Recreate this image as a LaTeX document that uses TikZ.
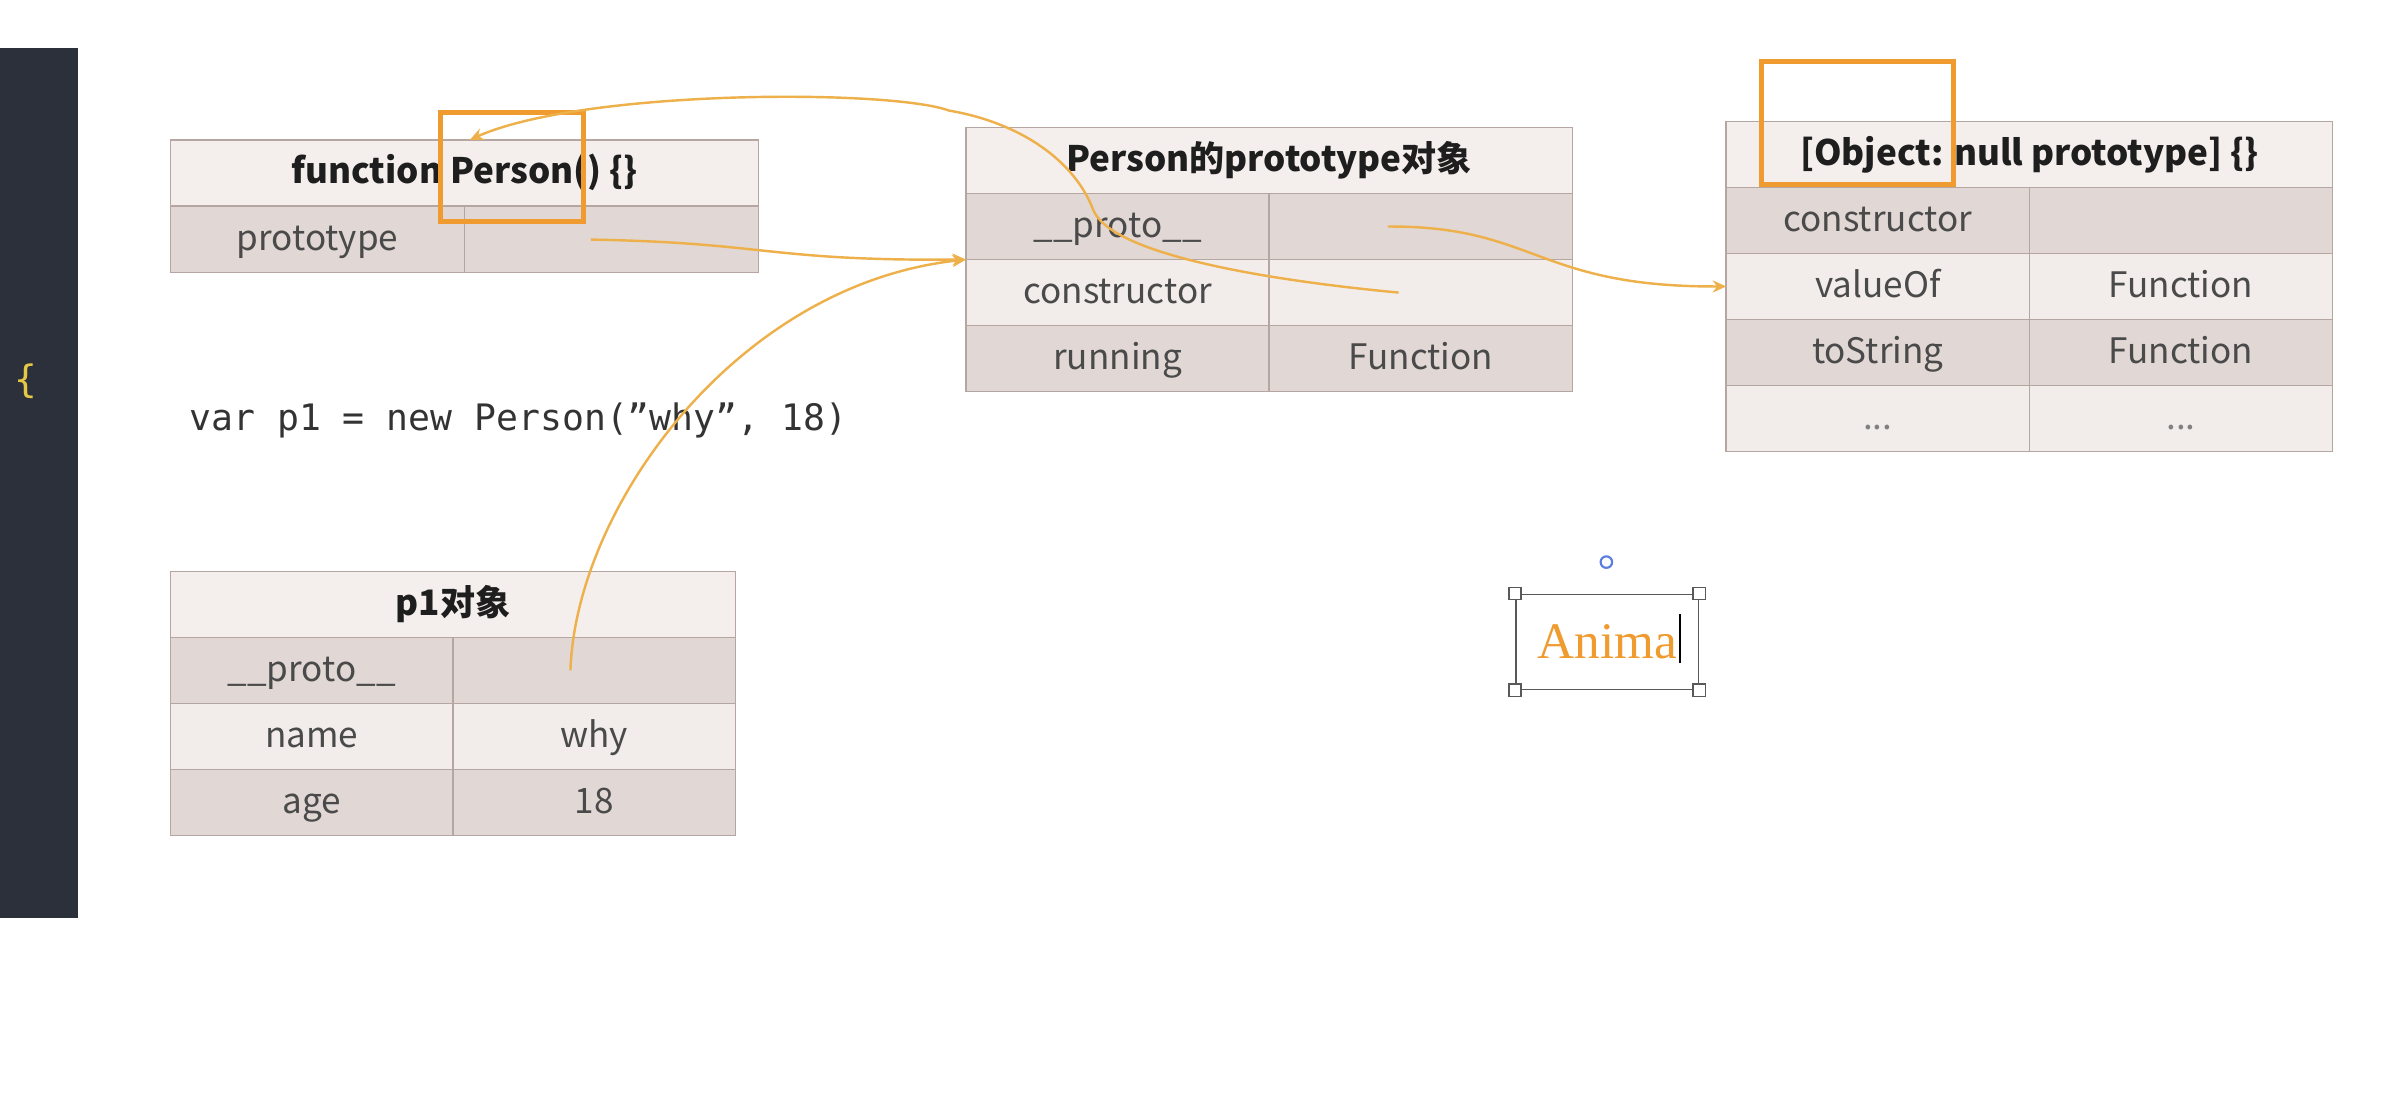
\documentclass[tikz,border=0pt]{standalone}
\usepackage{fontspec}
\usepackage{tikz}
\usetikzlibrary{positioning, arrows.meta}
\newfontfamily\cjk{Noto Sans CJK SC}
\newfontfamily\codefont{DejaVu Sans Mono}
\newfontfamily\animafont{Liberation Serif}
\definecolor{panel}{HTML}{2C303B}
\definecolor{curly}{HTML}{E5C845}
\definecolor{tblline}{HTML}{B5A6A2}
\definecolor{hdrfill}{HTML}{F4EFED}
\definecolor{rowdark}{HTML}{E1D7D4}
\definecolor{rowlight}{HTML}{F2EDEA}
\definecolor{celltext}{HTML}{4A4A4A}
\definecolor{hdrtext}{HTML}{1E1E1E}
\definecolor{hlc}{HTML}{EF9B2F}
\definecolor{linkc}{HTML}{EEB04A}
\definecolor{rotc}{HTML}{5B7FE0}
\newcommand{\kvrow}[6]{%
  \node[cell, fill=#4, minimum width=#3, anchor=west] (#1k) at #2 {#5};
  \node[cell, fill=#4, minimum width=#3, right=0pt of #1k] (#1v) {#6};}

\begin{document}
\begin{tikzpicture}[x=0.02cm, y=-0.02cm,
    cell/.style={draw=tblline, line width=0.6pt, inner sep=0pt, outer sep=0pt,
      minimum height=0.86cm, text height=0.9em, text depth=0.1em,
      text=celltext, font=\cjk\fontsize{13}{15}\selectfont},
    hdr/.style={cell, fill=hdrfill, text=hdrtext, font=\cjk\bfseries\fontsize{13}{15}\selectfont},
    hilite/.style={draw=hlc, line width=1.8pt, inner sep=0pt},
    ptr/.style={draw=linkc, line width=0.9pt, -{Stealth[length=5pt, width=4.5pt]}},
    handle/.style={draw=gray!70!black, fill=white, line width=0.6pt, minimum size=0.16cm, inner sep=0pt}]
  \useasboundingbox (0,0) rectangle (1568,725);
  \fill[white] (0,0) rectangle (1568,725);
  % editor strip
  \fill[panel] (0,31) rectangle (51,598);
  \node[font=\codefont\fontsize{14}{16}\selectfont, text=curly] (brace) at (17,248) {\{};
  % function Person
  \node[hdr, minimum width=7.66cm, anchor=west] (ahead) at (111,112.5) {function Person() \{\}};
  \kvrow{aproto}{(111,156)}{3.83cm}{rowdark}{prototype}{}
  % prototype object
  \node[hdr, minimum width=7.9cm, anchor=west] (bhead) at (629,104.5) {Person的prototype对象};
  \kvrow{bproto}{(629,147.5)}{3.95cm}{rowdark}{\_\_proto\_\_}{}
  \kvrow{bcon}{(629,190.5)}{3.95cm}{rowlight}{constructor}{}
  \kvrow{brun}{(629,233.5)}{3.95cm}{rowdark}{running}{Function}
  % null prototype object
  \node[hdr, minimum width=7.9cm, anchor=west] (chead) at (1124,100.5) {[Object: null prototype] \{\}};
  \kvrow{ccon}{(1124,143.5)}{3.95cm}{rowdark}{constructor}{}
  \kvrow{cval}{(1124,186.5)}{3.95cm}{rowlight}{valueOf}{Function}
  \kvrow{cstr}{(1124,229.5)}{3.95cm}{rowdark}{toString}{Function}
  \kvrow{cdots}{(1124,272.5)}{3.95cm}{rowlight}{\textcolor{gray}{...}}{\textcolor{gray}{...}}
  % p1
  \node[font=\codefont\fontsize{13.5}{16}\selectfont, text=black!80, anchor=west, inner sep=0pt] (code) at (123,274) {var p1 = new Person(”why”, 18)};
  \node[hdr, minimum width=7.36cm, anchor=west] (dhead) at (111,393.5) {p1对象};
  \kvrow{dproto}{(111,436.5)}{3.68cm}{rowdark}{\_\_proto\_\_}{}
  \kvrow{dname}{(111,479.5)}{3.68cm}{rowlight}{name}{why}
  \kvrow{dage}{(111,522.5)}{3.68cm}{rowdark}{age}{18}
  % highlights
  \node[hilite, minimum width=1.86cm, minimum height=1.42cm] (hlperson) at (333.5,108.5) {};
  \node[hilite, minimum width=2.5cm, minimum height=1.6cm] (hlobject) at (1209.5,80) {};
  % links
  \draw[ptr] ([xshift=-0.27cm]aprotov.center) .. controls (500,158) and (500,170) .. (bprotok.south west);
  \draw[ptr] ([xshift=-0.31cm]dprotov.center) .. controls (375,330) and (480,185) .. (bprotok.south west);
  \draw[ptr] ([xshift=-0.29cm]bconv.center) .. controls (820,182) and (724,165) .. (712,137)
    .. controls (700,105) and (665,80) .. (618,72) .. controls (580,58) and (380,58) .. ([xshift=2pt]ahead.north);
  \draw[ptr] ([xshift=-0.43cm]bprotov.center) .. controls (1000,147) and (1000,187) .. (cvalk.west);
  % text box being typed
  \node[draw=gray!70!black, line width=0.6pt, minimum width=2.38cm, minimum height=1.24cm,
    font=\animafont\fontsize{19}{22}\selectfont, text=hlc] (anima) at (1046.5,418) {Anima\hspace{0.12cm}};
  \draw[line width=1pt] (1094,400) -- (1094,432);
  \foreach \c in {north west, north east, south west, south east}
    \node[handle] at (anima.\c) {};
  \node[draw=rotc, circle, minimum size=0.15cm, inner sep=0pt, line width=0.8pt] (rot) at (1046,366) {};
\end{tikzpicture}
\end{document}
